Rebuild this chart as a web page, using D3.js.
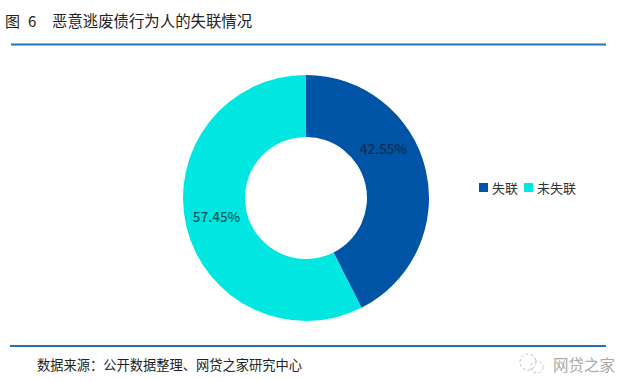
<!DOCTYPE html>
<html>
<head>
<meta charset="utf-8">
<script src="https://cdn.jsdelivr.net/npm/d3@7"></script>
<style>
  html, body { margin: 0; padding: 0; background: #fff; }
  svg { display: block; }
  text { font-family: "Noto Sans CJK SC", sans-serif; }
</style>
</head>
<body>
<svg width="626" height="381"></svg>
<script>
const categories = ["失联", "未失联"];
const shares = [42.55, 57.45];
const colors = ["#0054a6", "#00e6e0"];
const labelColors = ["#0b2f5c", "#045a5c"];

const svg = d3.select("svg");

// title and rules
svg.append("text").attr("x", 5).attr("y", 27)
  .attr("font-size", 15).attr("fill", "#222")
  .text("图");
svg.append("text").attr("x", 28).attr("y", 27)
  .attr("font-size", 15).attr("fill", "#222")
  .text("6");
svg.append("text").attr("x", 52).attr("y", 27)
  .attr("font-size", 15.4).attr("fill", "#222")
  .text("恶意逃废债行为人的失联情况");

svg.append("line").attr("x1", 11).attr("x2", 606).attr("y1", 44.5).attr("y2", 44.5)
  .attr("stroke", "#2470b5").attr("stroke-width", 2);
svg.append("line").attr("x1", 10).attr("x2", 606).attr("y1", 346).attr("y2", 346)
  .attr("stroke", "#2470b5").attr("stroke-width", 2);

// donut
const pie = d3.pie().sort(null).value(d => d);
const arc = d3.arc().innerRadius(61).outerRadius(123);
const g = svg.append("g").attr("transform", "translate(306,198)");

g.selectAll("path")
  .data(pie(shares))
  .enter().append("path")
  .attr("d", arc)
  .attr("fill", (d, i) => colors[i]);

// the first label sits well above its slice centre in the original
const labelShift = [[-12, -27], [0, -2]];
g.selectAll("text")
  .data(pie(shares))
  .enter().append("text")
  .attr("transform", (d, i) => {
    const c = arc.centroid(d);
    return `translate(${c[0] + labelShift[i][0]},${c[1] + labelShift[i][1]})`;
  })
  .attr("text-anchor", "middle")
  .attr("dy", "0.35em")
  .attr("font-size", 13.5)
  .attr("font-weight", 500)
  .attr("fill", (d, i) => labelColors[i])
  .text(d => d.data.toFixed(2) + "%");

// legend
const legendX = [479, 524];
const legend = svg.selectAll(".legend")
  .data(categories)
  .enter().append("g")
  .attr("class", "legend")
  .attr("transform", (d, i) => `translate(${legendX[i]},183)`);
legend.append("rect").attr("width", 9).attr("height", 9)
  .attr("fill", (d, i) => colors[i]);
legend.append("text").attr("x", 13).attr("y", 10)
  .attr("font-size", 13).attr("fill", "#333")
  .text(d => d);

// footer
svg.append("text").attr("x", 37).attr("y", 370)
  .attr("font-size", 13.25).attr("fill", "#222")
  .text("数据来源：公开数据整理、网贷之家研究中心");

// watermark
const mark = svg.append("g").attr("transform", "translate(530,364)")
  .attr("fill", "none").attr("stroke", "#c4c4c4").attr("stroke-width", 1)
  .attr("stroke-dasharray", "3 2");
mark.append("circle").attr("cx", -2).attr("cy", -2).attr("r", 8);
mark.append("circle").attr("cx", 7).attr("cy", 3).attr("r", 6);
svg.append("text").attr("x", 553).attr("y", 371)
  .attr("font-size", 15.5).attr("fill", "#aaa")
  .text("网贷之家");
</script>
</body>
</html>
